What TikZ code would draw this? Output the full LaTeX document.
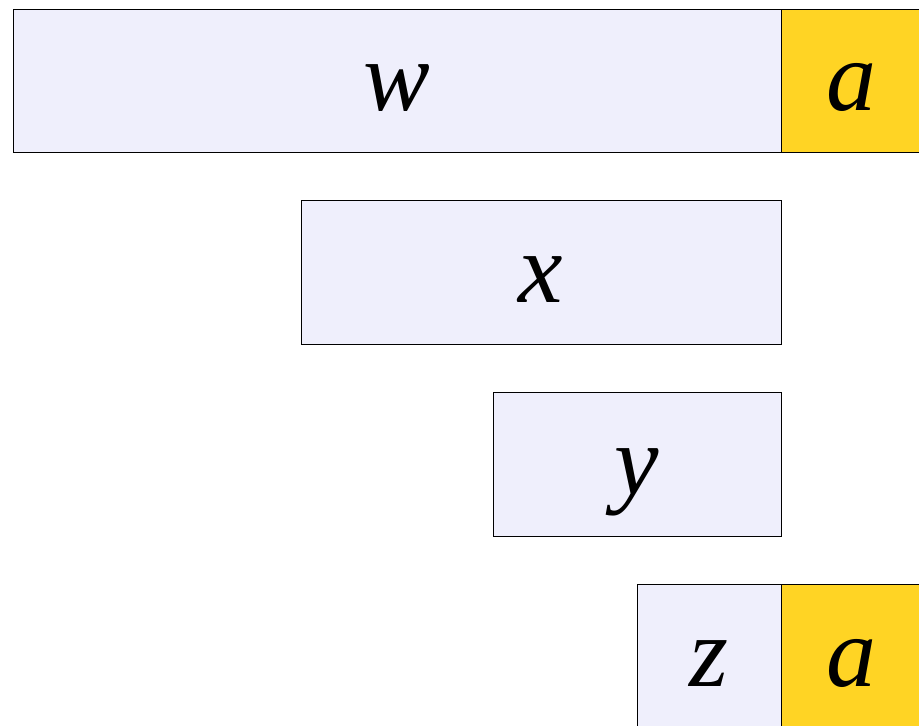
\documentclass[tikz,border=0pt]{standalone}
\usepackage{fontspec}
\setmainfont{Liberation Serif}
\definecolor{lav}{RGB}{239,239,252}
\definecolor{gold}{RGB}{255,212,36}
\begin{document}
\begin{tikzpicture}[x=1pt,y=-1pt,
  cell/.style={draw=black,line width=0.8pt},
  lbl/.style={anchor=base,inner sep=0pt,font=\fontsize{100}{100}\selectfont\itshape}]
\useasboundingbox (0,0) rectangle (919,726);
\begin{scope}
\clip (0,0) rectangle (919,726);
\filldraw[cell,fill=lav] (13,9) rectangle (781,152);
\filldraw[cell,fill=gold] (781,9) rectangle (925,152);
\filldraw[cell,fill=lav] (301,200) rectangle (781,344);
\filldraw[cell,fill=lav] (493,392) rectangle (781,536);
\filldraw[cell,fill=lav] (637,584) rectangle (781,732);
\filldraw[cell,fill=gold] (781,584) rectangle (925,732);
\end{scope}
\node[lbl] (w) at (397,110) {w};
\node[lbl] (a1) at (851,110) {a};
\node[lbl] (x) at (541,302) {x};
\node[lbl] (y) at (637,494) {y};
\node[lbl] (z) at (709,686) {z};
\node[lbl] (a2) at (851,686) {a};
\end{tikzpicture}
\end{document}
